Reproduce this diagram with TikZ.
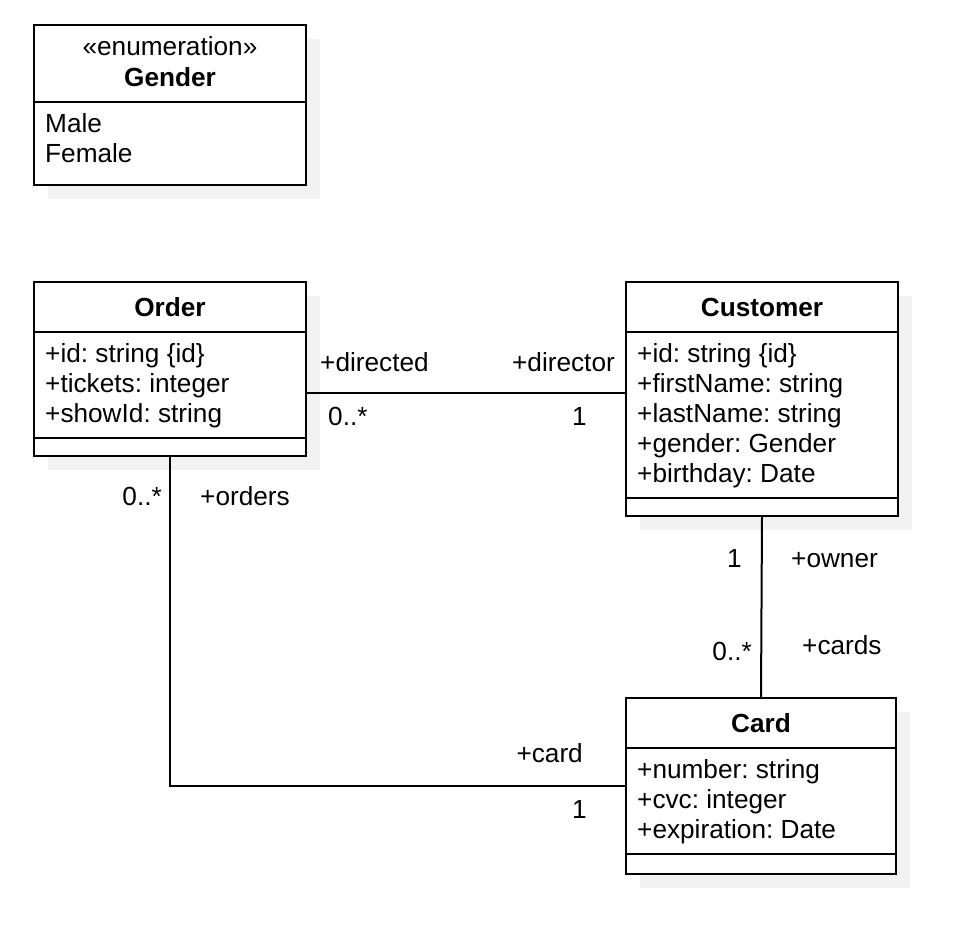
\documentclass[tikz,border=0pt]{standalone}
\usepackage{fontspec}
\setmainfont{Liberation Sans}
\usetikzlibrary{shadows}
\definecolor{shadowgray}{RGB}{242,242,242}
\frenchspacing
\begin{document}
\frenchspacing
\begin{tikzpicture}[x=1pt,y=-1pt,
  every node/.style={font=\fontsize{26.2}{30}\selectfont},
  classbox/.style={draw, line width=2pt, fill=white, inner sep=0pt,
    drop shadow={shadow xshift=14pt, shadow yshift=-14pt, fill=shadowgray, opacity=1}},
  divider/.style={line width=2pt},
  conn/.style={line width=2pt},
  txt/.style={anchor=base west, inner sep=0pt},
  txtr/.style={anchor=base east, inner sep=0pt},
  ctitle/.style={anchor=base, inner sep=0pt, font=\fontsize{26.2}{30}\selectfont\bfseries},
  stereo/.style={anchor=base, inner sep=0pt}]
\useasboundingbox[fill=white] (0,0) rectangle (964,948);

% class boxes
\node[classbox, minimum width=272pt, minimum height=160pt] (gender) at (170,105) {};
\node[classbox, minimum width=272pt, minimum height=174pt] (order) at (170,369) {};
\node[classbox, minimum width=272pt, minimum height=234pt] (customer) at (762,399) {};
\node[classbox, minimum width=270pt, minimum height=176pt] (card) at (761,786) {};

% dividers
\draw[divider] (gender.west |- 0,102) -- (gender.east |- 0,102);
\draw[divider] (order.west |- 0,332) -- (order.east |- 0,332);
\draw[divider] (order.west |- 0,438) -- (order.east |- 0,438);
\draw[divider] (customer.west |- 0,332) -- (customer.east |- 0,332);
\draw[divider] (customer.west |- 0,498) -- (customer.east |- 0,498);
\draw[divider] (card.west |- 0,748) -- (card.east |- 0,748);
\draw[divider] (card.west |- 0,854) -- (card.east |- 0,854);

% Gender
\node[stereo] (gst) at (170,55) {«enumeration»};
\node[ctitle] (gtitle) at (170,86) {Gender};
\node[txt] (gmale) at (45,132) {Male};
\node[txt] (gfemale) at (45,162) {Female};

% Order
\node[ctitle] (otitle) at (170,316) {Order};
\node[txt] (oa1) at (45,362) {+id: string \{id\}};
\node[txt] (oa2) at (45,392) {+tickets: integer};
\node[txt] (oa3) at (45,422) {+showId: string};

% Customer
\node[ctitle] (cutitle) at (762,316) {Customer};
\node[txt] (cua1) at (637,362) {+id: string \{id\}};
\node[txt] (cua2) at (637,392) {+firstName: string};
\node[txt] (cua3) at (637,422) {+lastName: string};
\node[txt] (cua4) at (637,452) {+gender: Gender};
\node[txt] (cua5) at (637,482) {+birthday: Date};

% Card
\node[ctitle] (catitle) at (761,732) {Card};
\node[txt] (caa1) at (637,778) {+number: string};
\node[txt] (caa2) at (637,808) {+cvc: integer};
\node[txt] (caa3) at (637,838) {+expiration: Date};

% connectors
\draw[conn] ([yshift=-24pt]order.east) -- ([yshift=-24pt]order.east -| customer.west);
\draw[conn] (order.south) |- (card.west);
\draw[conn] (customer.south) -- (card.north);

% association labels
\node[txt] (ldirected) at (320,371) {+directed};
\node[txtr] (ldirector) at (615,371) {+director};
\node[txt] (lm1) at (328,425) {0..*};
\node[txtr] (lm2) at (587,425) {1};
\node[txtr] (lm3) at (162,505) {0..*};
\node[txt] (lorders) at (200,505) {+orders};
\node[txtr] (lm4) at (742,567) {1};
\node[txt] (lowner) at (791,567) {+owner};
\node[txtr] (lm5) at (752,660) {0..*};
\node[txt] (lcards) at (802,654) {+cards};
\node[txtr] (lcard) at (583,762) {+card};
\node[txtr] (lm6) at (587,818) {1};
\end{tikzpicture}
\end{document}
